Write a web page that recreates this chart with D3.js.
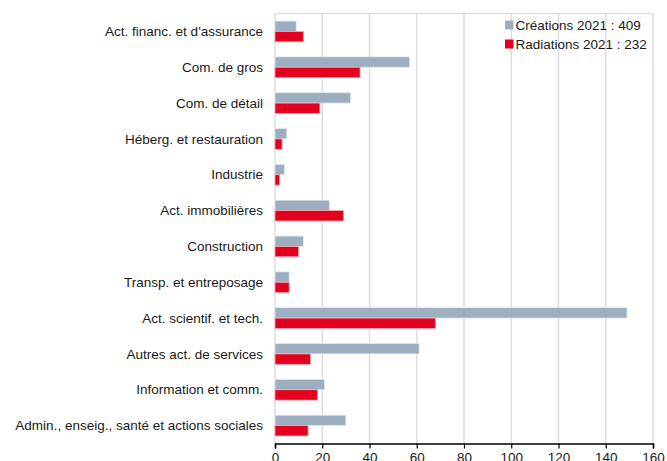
<!DOCTYPE html>
<html>
<head>
<meta charset="utf-8">
<script src="https://cdn.jsdelivr.net/npm/d3@7"></script>
<style>
  body { margin: 0; background: #fff; }
  svg text { font-family: "Liberation Sans", Arial, Helvetica, sans-serif; fill: #1a1a1a; }
</style>
</head>
<body>
<script>
// secteurs, du haut vers le bas
var categories = [
  "Act. financ. et d'assurance",
  "Com. de gros",
  "Com. de détail",
  "Héberg. et restauration",
  "Industrie",
  "Act. immobilières",
  "Construction",
  "Transp. et entreposage",
  "Act. scientif. et tech.",
  "Autres act. de services",
  "Information et comm.",
  "Admin., enseig., santé et actions sociales"
];
var creations = [9, 57, 32, 5, 4, 23, 12, 6, 149, 61, 21, 30];
var radiations = [12, 36, 19, 3, 2, 29, 10, 6, 68, 15, 18, 14];
var seriesNames = ["Créations 2021 : 409", "Radiations 2021 : 232"];
var xTicks = [0, 20, 40, 60, 80, 100, 120, 140, 160];

var width = 667, height = 461;
var margin = {top: 13.5, right: 14, bottom: 17.5, left: 275};
var colors = ["#9cafc0", "#e3001f"];
var fontSize = 13.5;

var svg = d3.select("body").append("svg")
    .attr("width", width)
    .attr("height", height);

var x = d3.scaleLinear()
    .domain([0, 160])
    .range([margin.left, width - margin.right]);

var y = d3.scaleBand()
    .domain(categories)
    .range([margin.top, height - margin.bottom])
    .paddingInner(0.42)
    .paddingOuter(0.21);

// grille verticale
svg.append("g")
    .selectAll("line")
    .data(xTicks)
    .enter().append("line")
      .attr("x1", function(d) { return x(d); })
      .attr("x2", function(d) { return x(d); })
      .attr("y1", margin.top)
      .attr("y2", height - margin.bottom)
      .attr("stroke", "#dedede")
      .attr("stroke-width", 1.5);

// bord supérieur
svg.append("line")
    .attr("x1", x(0)).attr("x2", x(160))
    .attr("y1", margin.top).attr("y2", margin.top)
    .attr("stroke", "#dedede")
    .attr("stroke-width", 1.5);

var groups = svg.append("g")
    .selectAll("g")
    .data(categories)
    .enter().append("g");

var bh = y.bandwidth() / 2;

groups.append("rect")
    .attr("x", x(0))
    .attr("y", function(d) { return y(d); })
    .attr("width", function(d, i) { return x(creations[i]) - x(0); })
    .attr("height", bh)
    .attr("fill", colors[0])
    .attr("stroke", "#e2e9ef")
    .attr("stroke-width", 0.8);

groups.append("rect")
    .attr("x", x(0))
    .attr("y", function(d) { return y(d) + bh; })
    .attr("width", function(d, i) { return x(radiations[i]) - x(0); })
    .attr("height", bh)
    .attr("fill", colors[1])
    .attr("stroke", "#f3a7b0")
    .attr("stroke-width", 0.8);

// libellés des catégories
svg.append("g")
    .selectAll("text")
    .data(categories)
    .enter().append("text")
      .attr("x", 263)
      .attr("y", function(d) { return y(d) + y.bandwidth() / 2; })
      .attr("dy", "0.35em")
      .attr("text-anchor", "end")
      .attr("font-size", fontSize)
      .text(function(d) { return d; });

// axe des x
var xAxis = svg.append("g")
    .attr("transform", "translate(0," + (height - margin.bottom) + ")")
    .call(d3.axisBottom(x).tickValues(xTicks).tickSize(5).tickPadding(4));
xAxis.select(".domain").attr("stroke", "#000").attr("stroke-width", 1.5);
xAxis.selectAll(".tick line").attr("stroke", "#000").attr("stroke-width", 1.2);
xAxis.selectAll(".tick text")
    .attr("font-size", fontSize)
    .attr("font-family", "Liberation Sans, Arial, sans-serif")
    .attr("fill", "#1a1a1a");

// légende
var legend = svg.append("g")
    .selectAll("g")
    .data(seriesNames)
    .enter().append("g")
      .attr("transform", function(d, i) { return "translate(505," + (25 + i * 19) + ")"; });

legend.append("rect")
    .attr("x", 0)
    .attr("y", -4.5)
    .attr("width", 8.5)
    .attr("height", 9)
    .attr("fill", function(d, i) { return colors[i]; });

legend.append("text")
    .attr("x", 10.5)
    .attr("dy", "0.35em")
    .attr("font-size", fontSize)
    .text(function(d) { return d; });
</script>
</body>
</html>
